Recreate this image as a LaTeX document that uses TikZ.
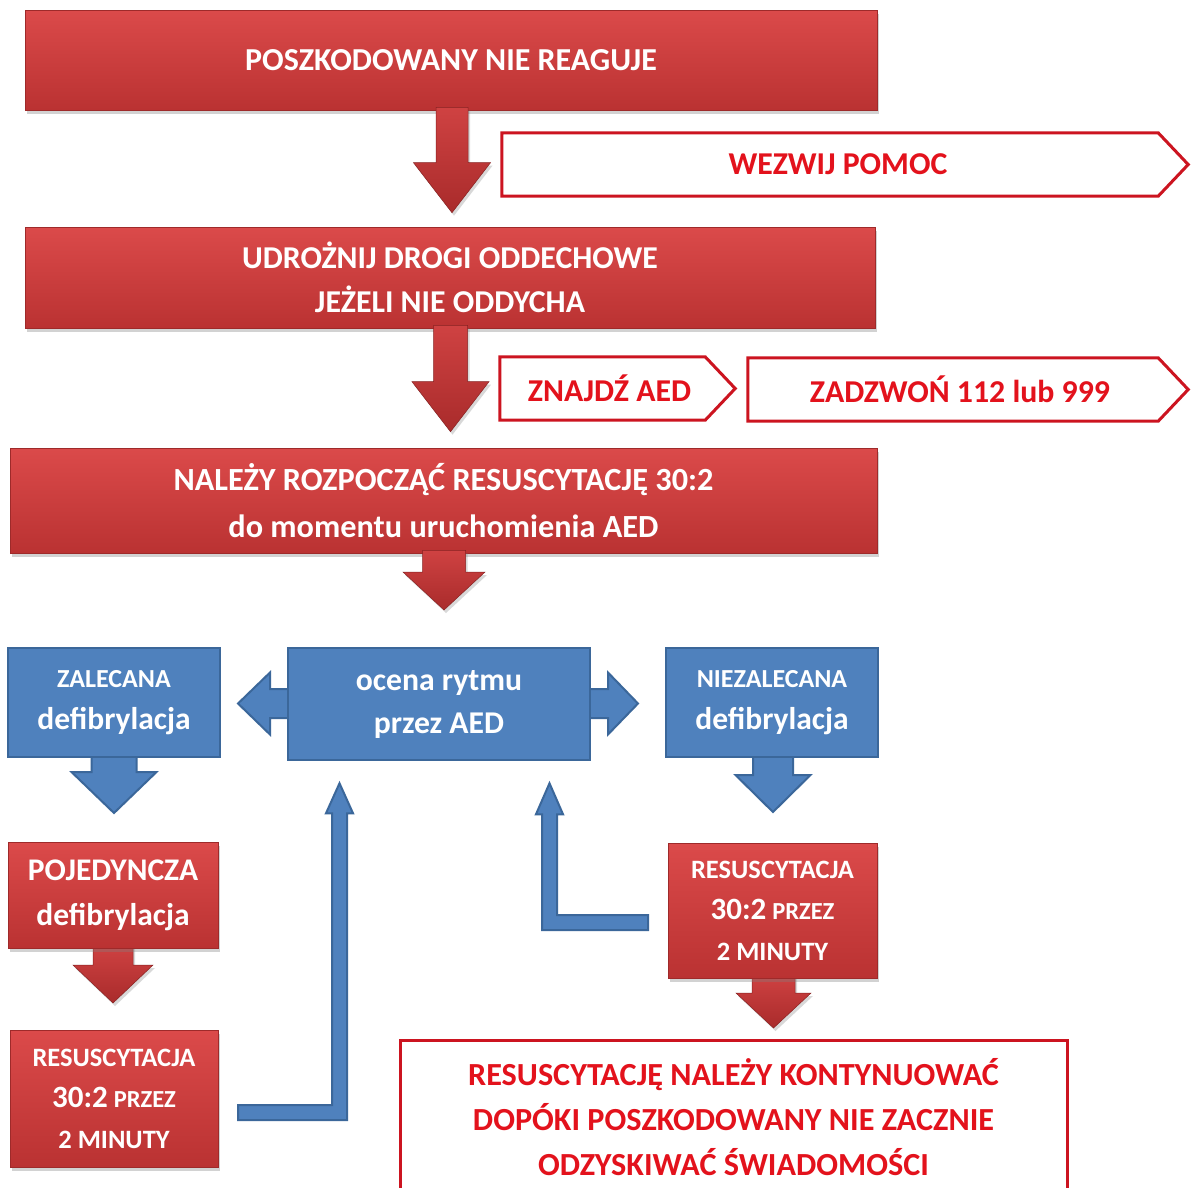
\documentclass[tikz,border=0pt]{standalone}
\usepackage{fontspec}
\setmainfont{Carlito}
\usetikzlibrary{calc,shadows}
\definecolor{redtop}{HTML}{DB4A4A}
\definecolor{redbot}{HTML}{BA3232}
\definecolor{arrtop}{HTML}{CF4242}
\definecolor{arrbot}{HTML}{A92B2B}
\definecolor{bluefill}{HTML}{4F81BD}
\definecolor{blueline}{HTML}{3B679A}
\definecolor{alertred}{HTML}{E3121C}
\definecolor{alertline}{HTML}{CC1420}
\tikzset{
  redbox/.style={rectangle, top color=redtop, bottom color=redbot, draw=redbot!85!black, line width=0.6,
    text=white, align=center, inner sep=0,
    drop shadow={opacity=0.35, shadow xshift=2pt, shadow yshift=-4pt}},
  bluebox/.style={rectangle, fill=bluefill, draw=blueline, line width=2.5, text=white, align=center, inner sep=0},
  alertbox/.style={rectangle, fill=white, draw=alertline, line width=3, text=alertred, align=center, inner sep=0},
  signalframe/.style={fill=white, draw=alertline, line width=3, line join=miter},
  signaltext/.style={text=alertred, font=\bfseries\fontsize{31.8}{33}\selectfont},
  redarrow/.style={top color=arrtop, bottom color=arrbot, draw=arrbot!80!black, line width=0.5,
    drop shadow={opacity=0.3, shadow xshift=2pt, shadow yshift=-3pt}},
  bluearrow/.style={fill=bluefill, draw=blueline, line width=2, line join=miter},
}
\newcommand\blockdown[6]{%
  \path[#1] let \p1=#2, \p2=#3 in
    (\x2-#4pt,\y1) -- (\x2-#4pt,\y2+#6pt) -- (\x2-#5pt,\y2+#6pt) -- (\x2,\y2)
    -- (\x2+#5pt,\y2+#6pt) -- (\x2+#4pt,\y2+#6pt) -- (\x2+#4pt,\y1) -- cycle;}
\begin{document}
\begin{tikzpicture}[x=1pt,y=-1pt]
\clip (0,0) rectangle (1192,1187);
\fill[white] (0,0) rectangle (1192,1187);

% ---- top red boxes ----
\path
 node[redbox, minimum width=852, minimum height=100, font=\bfseries\fontsize{32}{44}\selectfont] (b1) at (451,60) {POSZKODOWANY NIE REAGUJE}
 node[redbox, minimum width=850, minimum height=101, font=\bfseries\fontsize{31.8}{44}\selectfont] (b2) at (450,277.5) {UDROŻNIJ DROGI ODDECHOWE\\JEŻELI NIE ODDYCHA}
 node[redbox, minimum width=867, minimum height=105, font=\bfseries\fontsize{32.3}{47}\selectfont] (b3) at (443.5,500.5) {NALEŻY ROZPOCZĄĆ RESUSCYTACJĘ 30:2\\do momentu uruchomienia AED};

% ---- signal shapes ----
\node[minimum width=656, minimum height=63, inner sep=0] (wez) at (830,164.5) {};
\draw[signalframe] (wez.north west) -- (wez.north east) -- ($(wez.east)+(30,0)$) -- (wez.south east) -- (wez.south west) -- cycle;
\node[signaltext] at ($(wez.center)+(8,0)$) {WEZWIJ POMOC};

\node[minimum width=205, minimum height=63, inner sep=0] (zn) at (602.5,388.5) {};
\draw[signalframe] (zn.north west) -- (zn.north east) -- ($(zn.east)+(30,0)$) -- (zn.south east) -- (zn.south west) -- cycle;
\node[signaltext] at ($(zn.center)+(7,0)$) {ZNAJDŹ AED};

\node[minimum width=410, minimum height=63, inner sep=0] (zad) at (953,389.5) {};
\draw[signalframe] (zad.north west) -- (zad.north east) -- ($(zad.east)+(30,0)$) -- (zad.south east) -- (zad.south west) -- cycle;
\node[signaltext] at ($(zad.center)+(7,0)$) {ZADZWOŃ 112 lub 999};

% ---- lower positions ----
\path
 coordinate (oc) at (439,704)
 coordinate (zal) at (114,702.5)
 coordinate (niez) at (772,702.5)
 coordinate (poj) at (113,895)
 coordinate (resL) at (114,1098.5)
 coordinate (resR) at (772.5,910.5)
 coordinate (fin) at (733.5,1117);

% ---- red block arrows ----
\blockdown{redarrow}{($(b1.south)+(0,-3)$)}{($(b2.north)+(2,-14)$)}{16}{38.5}{50}
\blockdown{redarrow}{($(b2.south)+(0,-3)$)}{($(b3.north)+(7,-16)$)}{17}{38.5}{50}
\blockdown{redarrow}{($(b3.south)+(0,-3)$)}{($(oc)+(5,-94)$)}{21.5}{41}{38}

% ---- blue side arrows of ocena ----
\path[bluearrow] let \p1=($(oc)+(-140,0)$), \p2=($(oc)+(-201,-0.5)$) in
  (\x1,\y2+14.5pt) -- (\x2+32pt,\y2+14.5pt) -- (\x2+32pt,\y2+31pt) -- (\x2,\y2)
  -- (\x2+32pt,\y2-31pt) -- (\x2+32pt,\y2-14.5pt) -- (\x1,\y2-14.5pt) -- cycle;
\path[bluearrow] let \p1=($(oc)+(140,0)$), \p2=($(oc)+(199,-0.5)$) in
  (\x1,\y2+14.5pt) -- (\x2-30pt,\y2+14.5pt) -- (\x2-30pt,\y2+31pt) -- (\x2,\y2)
  -- (\x2-30pt,\y2-31pt) -- (\x2-30pt,\y2-14.5pt) -- (\x1,\y2-14.5pt) -- cycle;

% ---- blue boxes ----
\node[bluebox, minimum width=302, minimum height=112, font=\bfseries\fontsize{31.7}{43}\selectfont] (ocena) at (oc) {ocena rytmu\\przez AED};

\blockdown{bluearrow}{($(zal)+(0,50)$)}{($(poj)+(1,-82)$)}{22.5}{42.5}{41}
\blockdown{bluearrow}{($(niez)+(0,50)$)}{($(resR)+(0.5,-98.5)$)}{20}{37.5}{37}

\node[bluebox, minimum width=212, minimum height=109, font=\bfseries\fontsize{31.5}{42}\selectfont] (zalb) at (zal)
  {{\fontsize{26}{42}\selectfont ZALECANA}\\defibrylacja};
\node[bluebox, minimum width=212, minimum height=109, font=\bfseries\fontsize{31.5}{42}\selectfont] (niezb) at (niez)
  {{\fontsize{26}{42}\selectfont NIEZALECANA}\\defibrylacja};

% ---- L connectors back to ocena ----
\path[bluearrow] let \p1=($(resL)+(124,14)$), \p2=($(ocena.south)+(-99.5,22)$) in
  (\x1,\y1+7.5pt) -- (\x2-7.5pt,\y1+7.5pt) -- (\x2-7.5pt,\y2-30pt) -- (\x2-13.5pt,\y2-30pt) -- (\x2,\y2)
  -- (\x2+13.5pt,\y2-30pt) -- (\x2+7.5pt,\y2-30pt) -- (\x2+7.5pt,\y1-7.5pt) -- (\x1,\y1-7.5pt) -- cycle;
\path[bluearrow] let \p1=($(resR)+(-124.5,12)$), \p2=($(ocena.south)+(110.5,22)$) in
  (\x1,\y1+7.5pt) -- (\x2+7.5pt,\y1+7.5pt) -- (\x2+7.5pt,\y2-31pt) -- (\x2+13.5pt,\y2-31pt) -- (\x2,\y2)
  -- (\x2-13.5pt,\y2-31pt) -- (\x2-7.5pt,\y2-31pt) -- (\x2-7.5pt,\y1-7.5pt) -- (\x1,\y1-7.5pt) -- cycle;

% ---- red lower arrows ----
\blockdown{redarrow}{($(poj)+(0,50)$)}{($(resL)+(-1,-95.5)$)}{20}{40}{38}
\blockdown{redarrow}{($(resR)+(0,64)$)}{($(fin)+(40,-89)$)}{21.5}{37.5}{35}

% ---- red lower boxes ----
\node[redbox, minimum width=210, minimum height=106, font=\bfseries\fontsize{31.5}{45}\selectfont] (pojb) at (poj) {POJEDYNCZA\\defibrylacja};
\node[redbox, minimum width=208, minimum height=137, font=\bfseries\fontsize{26.5}{41}\selectfont] (resLb) at (resL)
  {RESUSCYTACJA\\{\fontsize{31}{41}\selectfont 30:2} {\fontsize{24.5}{41}\selectfont PRZEZ}\\2 MINUTY};
\node[redbox, minimum width=209, minimum height=135, font=\bfseries\fontsize{26.5}{41}\selectfont] (resRb) at (resR)
  {RESUSCYTACJA\\{\fontsize{31}{41}\selectfont 30:2} {\fontsize{24.5}{41}\selectfont PRZEZ}\\2 MINUTY};

% ---- final box ----
\node[alertbox, minimum width=667, minimum height=154, font=\bfseries\fontsize{32.2}{45}\selectfont] (finb) at (fin)
  {RESUSCYTACJĘ NALEŻY KONTYNUOWAĆ\\DOPÓKI POSZKODOWANY NIE ZACZNIE\\ODZYSKIWAĆ ŚWIADOMOŚCI};
\end{tikzpicture}
\end{document}
